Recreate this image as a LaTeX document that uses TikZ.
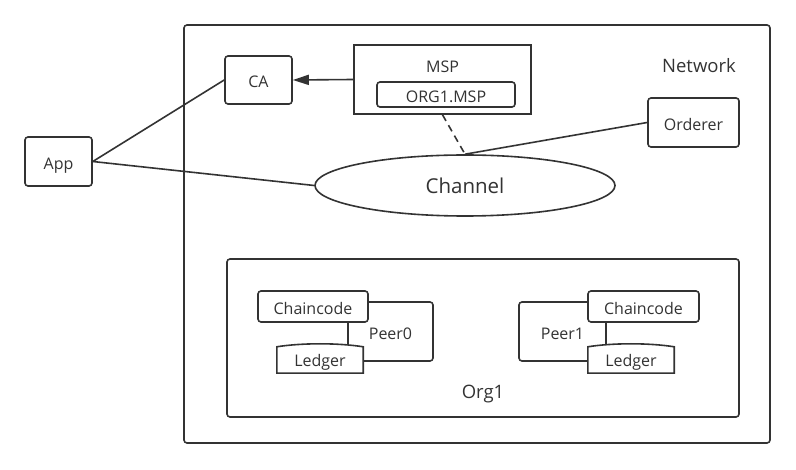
\documentclass[tikz,border=0pt]{standalone}
\usepackage{fontspec}
\setmainfont{Open Sans}
\usetikzlibrary{arrows.meta,shapes.geometric}
\definecolor{pag}{HTML}{333333}

\begin{document}
\begin{tikzpicture}[x=1pt,y=-1pt,
		box/.style={draw=pag, line width=1.6pt, rounded corners=3pt, fill=white, inner sep=0pt, text=pag, text height=19pt, text depth=3pt, font=\fontsize{16}{19}\selectfont},
		txt/.style={text=pag, inner sep=0pt, text height=19pt, text depth=3pt, font=\fontsize{16}{19}\selectfont},
		big/.style={text=pag, inner sep=0pt, text height=21.5pt, text depth=3pt, font=\fontsize{18.5}{22}\selectfont},
		link/.style={draw=pag, line width=1.6pt}]
		\useasboundingbox (0,0) rectangle (796,470);
		%% The network frame, with its name in the top right corner
		\draw[link, rounded corners=3pt] (184,25) rectangle (770,443);
		\node[big] (netlbl) at (699,63.5) {Network};
		%% Boxes of the upper part
		\node[box, minimum width=67pt, minimum height=48pt] (ca) at (258.5,80) {CA};
		\node[box, minimum width=67pt, minimum height=49pt] (app) at (58.5,161.5) {App};
		\node[box, rounded corners=0pt, minimum width=177pt, minimum height=69pt] (msp) at (442.5,79.5) {};
		\node[txt] (msplbl) at (442.5,65) {MSP};
		\node[box, minimum width=138pt, minimum height=25pt] (orgmsp) at (446,94.5) {ORG1.MSP};
		\node[box, minimum width=91pt, minimum height=49pt] (ord) at (693.5,122.5) {Orderer};
		\node[box, ellipse, minimum width=300pt, minimum height=61pt, text height=20pt, font=\fontsize{20.5}{24}\selectfont] (chan) at (465,185.5) {Channel};
		%% Connectors
		\draw[link, -{Triangle[length=16pt,width=10pt]}] (msp.west) -- (ca.east);
		\draw[link] (app.east) -- (ca.west);
		\draw[link] (app.east) -- (chan.west);
		\draw[link, dash pattern=on 7pt off 5pt] (msp.south) -- (chan.north);
		\draw[link] (ord.west) -- (chan.north);
		%% The organisation with its two peers
		\node[box, fill=none, minimum width=512pt, minimum height=158pt] (org) at (483,338) {};
		\node[big] (orglbl) at (483,389.5) {Org1};
		%% Peer0
		\node[box, minimum width=85pt, minimum height=59pt] (peer0) at (390.5,331.5) {Peer0};
		\node[box, minimum width=110pt, minimum height=31pt] (cc0) at (313,306.5) {Chaincode};
		\node[txt, minimum width=86pt, minimum height=29pt] (led0) at (320,358.5) {};
		\draw[link, fill=white] ([yshift=-3pt]led0.north west) .. controls +(25pt,4pt) and +(-25pt,4pt) .. ([yshift=-3pt]led0.north east) -- (led0.south east) -- (led0.south west) -- cycle;
		\node[txt] (led0txt) at (led0) {Ledger};
		%% Peer1
		\node[box, minimum width=87pt, minimum height=59pt] (peer1) at (562.5,331.5) {Peer1};
		\node[box, minimum width=111pt, minimum height=31pt] (cc1) at (643.5,306.5) {Chaincode};
		\node[txt, minimum width=86pt, minimum height=29pt] (led1) at (631,358.5) {};
		\draw[link, fill=white] ([yshift=-3pt]led1.north west) .. controls +(25pt,4pt) and +(-25pt,4pt) .. ([yshift=-3pt]led1.north east) -- (led1.south east) -- (led1.south west) -- cycle;
		\node[txt] (led1txt) at (led1) {Ledger};
	\end{tikzpicture}
\end{document}
